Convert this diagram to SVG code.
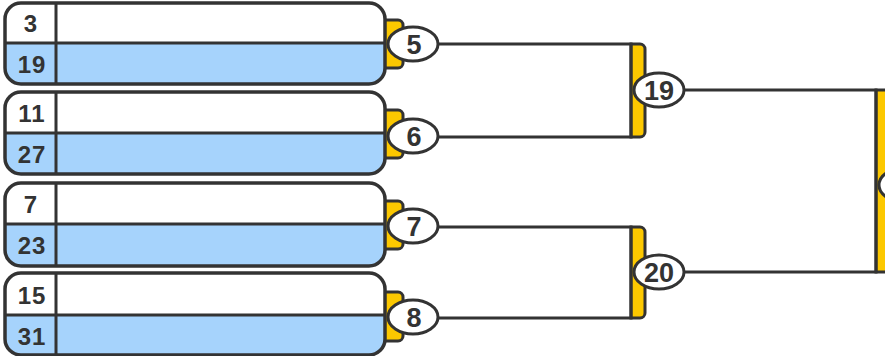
<svg xmlns="http://www.w3.org/2000/svg" width="885" height="356" viewBox="0 0 885 356">
<style>
.frame{fill:none;stroke:#333;stroke-width:3.5}
.white{fill:#fff}
.blue{fill:#a6d3fc}
.div{stroke:#333;stroke-width:3;fill:none}
.tab{fill:#fcc800;stroke:#333;stroke-width:3}
.ell{fill:#fff;stroke:#333;stroke-width:3}
.seed{font-family:"Liberation Sans",Arial,sans-serif;font-weight:bold;font-size:24px;fill:#333;text-anchor:middle;letter-spacing:1px}
.lbl{font-family:"Liberation Sans",Arial,sans-serif;font-weight:bold;font-size:27px;fill:#333;text-anchor:middle}
.con{fill:none;stroke:#333;stroke-width:3}
</style>
<rect width="885" height="356" fill="#fff"/>

<g id="connectors">
<path class="tab" d="M631,44 H640 A5,5 0 0 1 645,49 V132 A5,5 0 0 1 640,137 H631 Z"/>
<path class="tab" d="M631,227 H640 A5,5 0 0 1 645,232 V313 A5,5 0 0 1 640,318 H631 Z"/>
<path class="tab" d="M876,90 H900 V272 H876 Z"/>
<path class="con" d="M438,44 H631 V137 H438"/>
<path class="con" d="M438,227 H631 V318 H438"/>
<path class="con" d="M684,90 H876 V272 H684"/>
</g>

<g id="team-3-19">
<path class="tab" d="M380,20 H398 A5,5 0 0 1 403,25 V63 A5,5 0 0 1 398,68 H380 Z"/>
<rect class="white" x="5" y="3" width="380" height="81" rx="16"/>
<path class="blue" d="M5,43 H385 V68 A16,16 0 0 1 369,84 H21 A16,16 0 0 1 5,68 Z"/>
<path class="div" d="M5,43 H385 M56,3 V84"/>
<rect class="frame" x="5" y="3" width="380" height="81" rx="16"/>
<text class="seed" x="31" y="32">3</text>
<text class="seed" x="32" y="73">19</text>
</g>

<g id="team-11-27">
<path class="tab" d="M380,110 H398 A5,5 0 0 1 403,115 V153 A5,5 0 0 1 398,158 H380 Z"/>
<rect class="white" x="5" y="92" width="380" height="82" rx="16"/>
<path class="blue" d="M5,133 H385 V158 A16,16 0 0 1 369,174 H21 A16,16 0 0 1 5,158 Z"/>
<path class="div" d="M5,133 H385 M56,92 V174"/>
<rect class="frame" x="5" y="92" width="380" height="82" rx="16"/>
<text class="seed" x="32" y="122">11</text>
<text class="seed" x="32" y="163">27</text>
</g>

<g id="team-7-23">
<path class="tab" d="M380,201 H398 A5,5 0 0 1 403,206 V244 A5,5 0 0 1 398,249 H380 Z"/>
<rect class="white" x="5" y="183" width="380" height="83" rx="16"/>
<path class="blue" d="M5,224 H385 V250 A16,16 0 0 1 369,266 H21 A16,16 0 0 1 5,250 Z"/>
<path class="div" d="M5,224 H385 M56,183 V266"/>
<rect class="frame" x="5" y="183" width="380" height="83" rx="16"/>
<text class="seed" x="31" y="213">7</text>
<text class="seed" x="32" y="254">23</text>
</g>

<g id="team-15-31">
<path class="tab" d="M380,292 H398 A5,5 0 0 1 403,297 V336 A5,5 0 0 1 398,341 H380 Z"/>
<rect class="white" x="5" y="273" width="380" height="82" rx="16"/>
<path class="blue" d="M5,315 H385 V339 A16,16 0 0 1 369,355 H21 A16,16 0 0 1 5,339 Z"/>
<path class="div" d="M5,315 H385 M56,273 V355"/>
<rect class="frame" x="5" y="273" width="380" height="82" rx="16"/>
<text class="seed" x="32" y="304">15</text>
<text class="seed" x="32" y="345">31</text>
</g>

<g id="match-5">
<ellipse class="ell" cx="413" cy="44" rx="25" ry="17"/>
<text class="lbl" x="414" y="54">5</text>
</g>
<g id="match-6">
<ellipse class="ell" cx="413" cy="136" rx="25" ry="17"/>
<text class="lbl" x="414" y="146">6</text>
</g>
<g id="match-7">
<ellipse class="ell" cx="413" cy="226" rx="25" ry="17"/>
<text class="lbl" x="414" y="236">7</text>
</g>
<g id="match-8">
<ellipse class="ell" cx="413" cy="317" rx="25" ry="17"/>
<text class="lbl" x="414" y="327">8</text>
</g>
<g id="match-19">
<ellipse class="ell" cx="659" cy="90" rx="25" ry="17"/>
<text class="lbl" x="659" y="100">19</text>
</g>
<g id="match-20">
<ellipse class="ell" cx="659" cy="272" rx="25" ry="17"/>
<text class="lbl" x="659" y="282">20</text>
</g>
<g id="match-final">
<ellipse class="ell" cx="904" cy="185" rx="25" ry="17"/>
</g>
</svg>
